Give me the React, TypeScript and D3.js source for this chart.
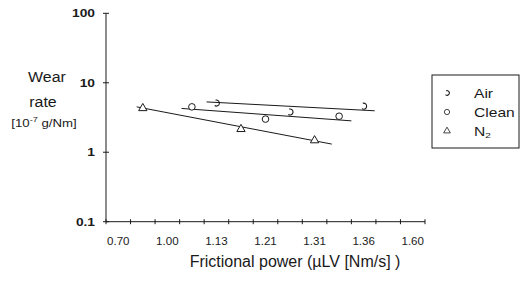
import * as React from "react";
import * as d3 from "d3";
import { useEffect, useRef } from "react";

// x axis: 13 category slots, every other one labelled
const xLabels = ["0.70", "", "1.00", "", "1.13", "", "1.21", "", "1.31", "", "1.36", "", "1.60"];
const yTicks = [0.1, 1, 10, 100];

// points: slot index and wear rate [1e-7 g/Nm]
const airSlots = [4, 7, 10];
const airValues = [5.1, 3.8, 4.6];
const cleanSlots = [3, 6, 9];
const cleanValues = [4.5, 3.0, 3.3];
const n2Slots = [1, 5, 8];
const n2Values = [4.3, 2.15, 1.48];

// drawn trend lines: [start, end] in axis units, with values
const airTrendX = [4.1, 10.95];
const airTrendY = [5.3, 3.95];
const cleanTrendX = [3.08, 10.0];
const cleanTrendY = [4.27, 2.83];
const n2TrendX = [1.25, 9.2];
const n2TrendY = [4.5, 1.31];

const ink = "#1a1a1a";
const font = "Liberation Sans, Arial, sans-serif";

const App: React.FunctionComponent = () => {
  const svgRef = useRef<SVGSVGElement>(null);

  useEffect(() => {
    const svg = d3.select(svgRef.current);
    svg.selectAll("*").remove();

    const x = d3.scaleLinear().domain([0, xLabels.length]).range([106, 425]);
    const y = d3.scaleLog().domain([0.1, 100]).range([221.7, 13.3]);

    const g = svg.append("g");

    // text drawn slightly stretched sideways, like the scanned original
    const label = (px: number, py: number, sx: number, size: number, anchor: string, weight: string) =>
      g.append("g")
        .attr("transform", `translate(${px},${py}) scale(${sx},1)`)
        .append("text")
        .attr("text-anchor", anchor)
        .attr("font-family", font)
        .attr("font-size", size)
        .attr("font-weight", weight)
        .attr("fill", ink);

    // axes
    g.append("line")
      .attr("x1", x(0)).attr("x2", x(0))
      .attr("y1", y(100)).attr("y2", y(0.1))
      .attr("stroke", ink).attr("stroke-width", 1);
    g.append("line")
      .attr("x1", x(0)).attr("x2", x(xLabels.length))
      .attr("y1", y(0.1)).attr("y2", y(0.1))
      .attr("stroke", ink).attr("stroke-width", 1);

    g.selectAll(".ytick")
      .data(yTicks)
      .join("line")
      .attr("x1", x(0) - 3).attr("x2", x(0) + 3)
      .attr("y1", (d) => y(d)).attr("y2", (d) => y(d))
      .attr("stroke", ink);
    yTicks.forEach((d) => {
      label(95, y(d) + 4, 1.25, 11, "end", "bold").text(d < 1 ? "0.1" : String(d));
    });

    g.selectAll(".xtick")
      .data(d3.range(xLabels.length + 1))
      .join("line")
      .attr("x1", (d) => x(d)).attr("x2", (d) => x(d))
      .attr("y1", y(0.1) - 2.5).attr("y2", y(0.1) + 2.5)
      .attr("stroke", ink);
    xLabels.forEach((d, i) => {
      if (d) label(x(i + 0.5), 245, 1.05, 11, "middle", "normal").text(d);
    });

    // titles
    label(47, 82, 1.1, 14.5, "middle", "normal").text("Wear");
    label(43, 107, 1.1, 14.5, "middle", "normal").text("rate");
    const unit = label(44, 127, 1.15, 11.5, "middle", "normal");
    unit.append("tspan").text("[10");
    unit.append("tspan").attr("dy", -5).attr("font-size", 8).text("-7");
    unit.append("tspan").attr("dy", 5).text(" g/Nm]");

    label(295, 267, 1, 16, "middle", "normal").text("Frictional power (\u00b5LV [Nm/s] )");

    // trend lines
    const trends = [
      { xs: airTrendX, ys: airTrendY },
      { xs: cleanTrendX, ys: cleanTrendY },
      { xs: n2TrendX, ys: n2TrendY },
    ];
    trends.forEach((t) => {
      g.append("line")
        .attr("x1", x(t.xs[0])).attr("y1", y(t.ys[0]))
        .attr("x2", x(t.xs[1])).attr("y2", y(t.ys[1]))
        .attr("stroke", ink).attr("stroke-width", 1);
    });

    const tri = d3.symbol().type(d3.symbolTriangle).size(30);
    const drawMarker = (sel: any, kind: string) => {
      if (kind === "tri") {
        sel.append("path").attr("d", tri()).attr("fill", "white").attr("stroke", ink).attr("stroke-width", 1);
      } else if (kind === "air") {
        sel.append("path")
          .attr("d", d3.arc()({ innerRadius: 3, outerRadius: 3, startAngle: -0.3, endAngle: Math.PI + 0.6 }) as string)
          .attr("fill", "none").attr("stroke", ink).attr("stroke-width", 1.1);
      } else {
        sel.append("circle").attr("r", 3.3).attr("fill", "white").attr("stroke", ink).attr("stroke-width", 1);
      }
    };

    const series = [
      { slots: airSlots, values: airValues, kind: "air" },
      { slots: cleanSlots, values: cleanValues, kind: "clean" },
      { slots: n2Slots, values: n2Values, kind: "tri" },
    ];
    series.forEach((s) => {
      s.slots.forEach((slot, i) => {
        const m = g.append("g").attr("transform", `translate(${x(slot + 0.5)},${y(s.values[i])})`);
        drawMarker(m, s.kind);
      });
    });

    // legend
    const lg = g.append("g").attr("transform", "translate(432,75)");
    lg.append("rect").attr("width", 87).attr("height", 73).attr("fill", "white").attr("stroke", ink).attr("stroke-width", 1);
    const items = [
      { name: "Air", kind: "air" },
      { name: "Clean", kind: "clean" },
      { name: "N2", kind: "tri" },
    ];
    items.forEach((it, i) => {
      const row = lg.append("g").attr("transform", `translate(0,${18 + i * 19})`);
      const m = row.append("g").attr("transform", "translate(15,0) scale(0.8)");
      drawMarker(m, it.kind);
      const t = row.append("g")
        .attr("transform", "translate(42,4.5) scale(1.25,1)")
        .append("text")
        .attr("font-family", font).attr("font-size", 12.5).attr("fill", ink);
      if (it.name === "N2") {
        t.append("tspan").text("N");
        t.append("tspan").attr("font-size", 8).attr("dy", 2).text("2");
      } else {
        t.text(it.name);
      }
    });
  }, []);

  return (
    <svg
      ref={svgRef}
      width={528}
      height={282}
      style={{ position: "absolute", left: 0, top: 0, background: "white" }}
    />
  );
};

export default App;
